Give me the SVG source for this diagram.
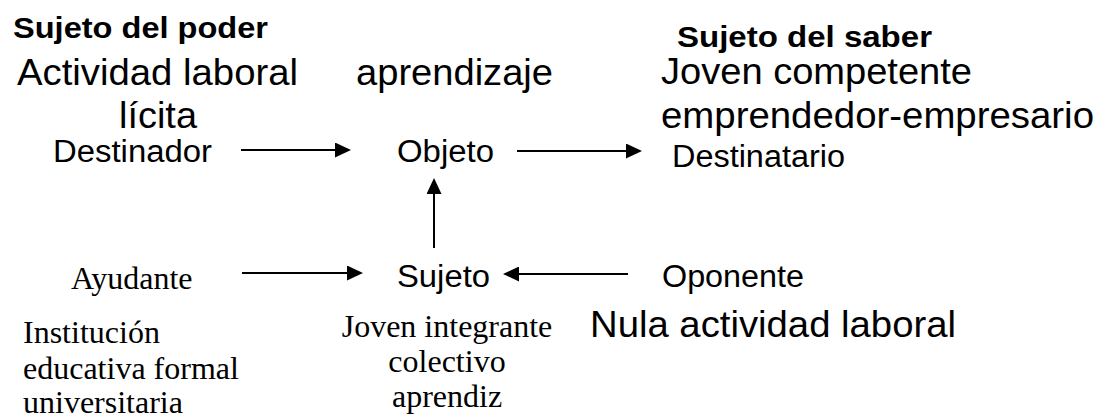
<svg xmlns="http://www.w3.org/2000/svg" width="1099" height="416" viewBox="0 0 1099 416">
<defs>
<style>
.b{font-family:"Liberation Sans",Arial,sans-serif;font-weight:bold;font-size:30px;fill:#000}
.l{font-family:"Liberation Sans",Arial,sans-serif;font-size:36px;fill:#000}
.m{font-family:"Liberation Sans",Arial,sans-serif;font-size:31px;fill:#000}
.t{font-family:"Liberation Serif","Times New Roman",serif;font-size:32px;fill:#000}
.c{stroke:#000;stroke-width:2;fill:none}
</style>
<marker id="ah" viewBox="0 0 16 15" refX="0" refY="7.5" markerWidth="16" markerHeight="15" markerUnits="userSpaceOnUse" orient="auto">
<path d="M0,0 L16,7.5 L0,15 Z" fill="#000"/>
</marker>
</defs>
<rect width="1099" height="416" fill="#fff"/>
<g id="labels" lengthAdjust="spacingAndGlyphs">
<text class="b" x="13" y="38" textLength="255" lengthAdjust="spacingAndGlyphs">Sujeto del poder</text>
<text class="b" x="677" y="47" textLength="255" lengthAdjust="spacingAndGlyphs">Sujeto del saber</text>
<text class="l" x="17" y="85" textLength="281" lengthAdjust="spacingAndGlyphs">Actividad laboral</text>
<text class="l" x="119" y="128" textLength="78" lengthAdjust="spacingAndGlyphs">lícita</text>
<text class="l" x="356" y="85" textLength="197" lengthAdjust="spacingAndGlyphs">aprendizaje</text>
<text class="l" x="661" y="84" textLength="311" lengthAdjust="spacingAndGlyphs">Joven competente</text>
<text class="l" x="661" y="128" textLength="433" lengthAdjust="spacingAndGlyphs">emprendedor-empresario</text>
<text class="l" x="590" y="337" textLength="366" lengthAdjust="spacingAndGlyphs">Nula actividad laboral</text>
</g>
<g id="destinador"><text class="m" x="53" y="162" textLength="159" lengthAdjust="spacingAndGlyphs">Destinador</text></g>
<g id="objeto"><text class="m" x="397" y="162" textLength="97" lengthAdjust="spacingAndGlyphs">Objeto</text></g>
<g id="destinatario"><text class="m" x="672" y="167" textLength="173" lengthAdjust="spacingAndGlyphs">Destinatario</text></g>
<g id="sujeto"><text class="m" x="397" y="287" textLength="93" lengthAdjust="spacingAndGlyphs">Sujeto</text></g>
<g id="oponente"><text class="m" x="662" y="287" textLength="142" lengthAdjust="spacingAndGlyphs">Oponente</text></g>
<g id="ayudante"><text class="t" x="71" y="289">Ayudante</text></g>
<g id="ayudante-desc">
<text class="t" x="23" y="343">Institución</text>
<text class="t" x="23" y="379">educativa formal</text>
<text class="t" x="23" y="413">universitaria</text>
</g>
<g id="sujeto-desc" text-anchor="middle">
<text class="t" x="447" y="337">Joven integrante</text>
<text class="t" x="447" y="372">colectivo</text>
<text class="t" x="447" y="407">aprendiz</text>
</g>
<g id="connectors">
<line class="c" x1="241" y1="150" x2="335" y2="150" marker-end="url(#ah)"/>
<line class="c" x1="517" y1="151" x2="626" y2="151" marker-end="url(#ah)"/>
<line class="c" x1="434" y1="248" x2="434" y2="194" marker-end="url(#ah)"/>
<line class="c" x1="242" y1="273" x2="347" y2="273" marker-end="url(#ah)"/>
<line class="c" x1="628" y1="274" x2="519" y2="274" marker-end="url(#ah)"/>
</g>
</svg>
